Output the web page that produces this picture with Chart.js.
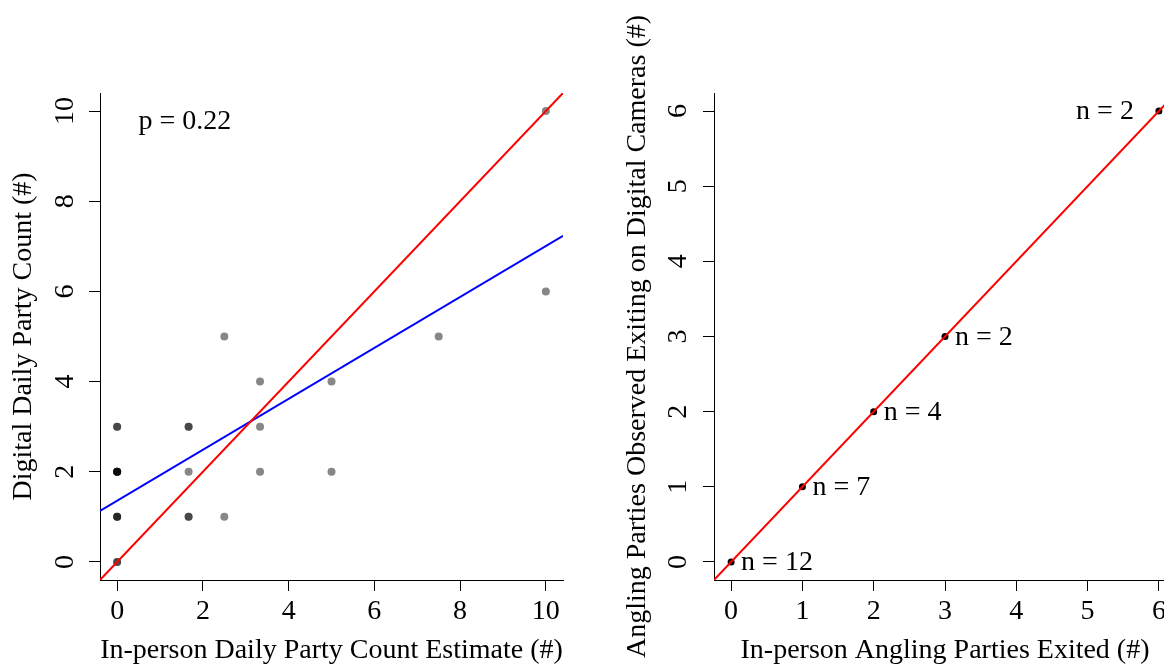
<!DOCTYPE html>
<html>
<head>
<meta charset="utf-8">
<script src="https://cdn.jsdelivr.net/npm/chart.js@4/dist/chart.umd.min.js"></script>
<style>
html, body { margin:0; padding:0; background:#fff; overflow:hidden; width:1164px; height:666px; }
canvas { position:absolute; top:0; }
#left { left:0; }
#right { left:582px; }
</style>
</head>
<body>
<canvas id="left" width="582" height="666"></canvas>
<canvas id="right" width="600" height="666"></canvas>
<script>
// ---------- Left panel data ----------
const leftXTitle = "In-person Daily Party Count Estimate (#)";
const leftYTitle = "Digital Daily Party Count (#)";
// one entry per day (duplicates overlap and darken)
const inPersonEstimate = [0,0, 0,0,0, 0,0,0,0,0, 0,0, 1.667,1.667, 1.667, 1.667,1.667, 2.5,2.5, 3.333,3.333,3.333, 5,5, 7.5, 10,10];
const digitalCount     = [0,0, 1,1,1, 2,2,2,2,2, 3,3, 1,1,         2,     3,3,         1,5,     2,3,4,             2,4, 5,   6,10];
const leftRange = [-0.4, 10.4];
const leftTicks = [0, 2, 4, 6, 8, 10];
const oneToOneX = [-0.4, 10.4];
const oneToOneY = [-0.4, 10.4];
const fitX = [-0.4, 10.4];
const fitY = [1.13, 7.23];
const pLabel = "p = 0.22";
const pLabelPos = [0.5, 9.6];

// ---------- Right panel data ----------
const rightXTitle = "In-person Angling Parties Exited (#)";
const rightYTitle = "Angling Parties Observed Exiting on Digital Cameras (#)";
const partiesExited   = [0, 1, 2, 3, 6];
const partiesObserved = [0, 1, 2, 3, 6];
const dayCounts       = [12, 7, 4, 2, 2];
const rightRange = [-0.24, 6.24];
const rightTicks = [0, 1, 2, 3, 4, 5, 6];
const rightLineX = [-0.24, 6.24];
const rightLineY = [-0.24, 6.24];

// ---------- helpers ----------
const FONT = '"Liberation Serif", "Times New Roman", Times, serif';
const FS = 28;
const toPts = (xs, ys) => xs.map((v, i) => ({x: v, y: ys[i]}));

const textPlugin = {
  id: 'rtexts',
  afterDraw(chart, args, opts) {
    const {ctx, chartArea: a, scales} = chart;
    ctx.save();
    ctx.fillStyle = '#000';
    ctx.font = FS + 'px ' + FONT;
    ctx.textAlign = 'center';
    ctx.textBaseline = 'alphabetic';
    ctx.fillText(opts.xTitle, (a.left + a.right) / 2, a.bottom + 78);
    ctx.save();
    ctx.translate(a.left - 69, (a.top + a.bottom) / 2);
    ctx.rotate(-Math.PI / 2);
    ctx.fillText(opts.yTitle, 0, 0);
    ctx.restore();
    (opts.labels || []).forEach(l => {
      const px = scales.x.getPixelForValue(l.x) + (l.dx || 0);
      const py = scales.y.getPixelForValue(l.y) + (l.dy || 0);
      ctx.textAlign = l.align || 'left';
      ctx.textBaseline = l.baseline || 'middle';
      ctx.fillText(l.text, px, py);
    });
    ctx.restore();
  }
};

function axisOpts(range, ticks, isY, fit, pad) {
  return {
    type: 'linear',
    min: range[0],
    max: range[1],
    afterBuildTicks: s => { s.ticks = ticks.map(v => ({value: v})); },
    afterFit: s => { if (isY) s.width = fit; else s.height = fit; },
    ticks: Object.assign({
      color: '#000',
      font: {family: FONT, size: FS},
      padding: pad,
      autoSkip: false
    }, isY ? {minRotation: 90, maxRotation: 90, crossAlign: 'center'} : {maxRotation: 0, minRotation: 0}),
    grid: {drawOnChartArea: false, drawTicks: true, tickLength: 11, color: '#000', lineWidth: 1},
    border: {display: true, color: '#000', width: 1}
  };
}

Chart.defaults.animation = false;

// ---------- Left chart ----------
new Chart(document.getElementById('left'), {
  type: 'scatter',
  data: {
    datasets: [
      {data: toPts(oneToOneX, oneToOneY), showLine: true, borderColor: '#ff0000', borderWidth: 2, pointRadius: 0, clip: 0, order: 0},
      {data: toPts(fitX, fitY), showLine: true, borderColor: '#0000ff', borderWidth: 2, pointRadius: 0, clip: 0, order: 0},
      {data: toPts(inPersonEstimate, digitalCount), backgroundColor: 'rgba(0,0,0,0.47)', borderWidth: 0, pointRadius: 4, order: 1}
    ]
  },
  options: {
    responsive: false,
    events: [],
    layout: {padding: {top: 93, right: 19, left: 0, bottom: 0}},
    plugins: {
      legend: {display: false},
      tooltip: {enabled: false},
      rtexts: {xTitle: leftXTitle, yTitle: leftYTitle,
        labels: [{text: pLabel, x: pLabelPos[0], y: pLabelPos[1], align: 'left', baseline: 'alphabetic'}]}
    },
    scales: {
      x: axisOpts(leftRange, leftTicks, false, 86, 4),
      y: axisOpts(leftRange, leftTicks, true, 100, 9.5)
    }
  },
  plugins: [textPlugin]
});

// ---------- Right chart ----------
const nLabels = partiesExited.map((v, i) => {
  const last = i === partiesExited.length - 1;
  return {text: 'n = ' + dayCounts[i], x: v, y: partiesObserved[i],
          dx: last ? -25 : 10, dy: 1, align: last ? 'right' : 'left', baseline: 'middle'};
});

new Chart(document.getElementById('right'), {
  type: 'scatter',
  data: {
    datasets: [
      {data: toPts(rightLineX, rightLineY), showLine: true, borderColor: '#ff0000', borderWidth: 2, pointRadius: 0, clip: 0, order: 0},
      {data: toPts(partiesExited, partiesObserved), backgroundColor: '#000', borderWidth: 0, pointRadius: 3.5, order: 1}
    ]
  },
  options: {
    responsive: false,
    events: [],
    layout: {padding: {top: 93, right: 6, left: 0, bottom: 0}},
    plugins: {
      legend: {display: false},
      tooltip: {enabled: false},
      rtexts: {xTitle: rightXTitle, yTitle: rightYTitle, labels: nLabels}
    },
    scales: {
      x: axisOpts(rightRange, rightTicks, false, 86, 4),
      y: axisOpts(rightRange, rightTicks, true, 132, 17)
    }
  },
  plugins: [textPlugin]
});
</script>
</body>
</html>
